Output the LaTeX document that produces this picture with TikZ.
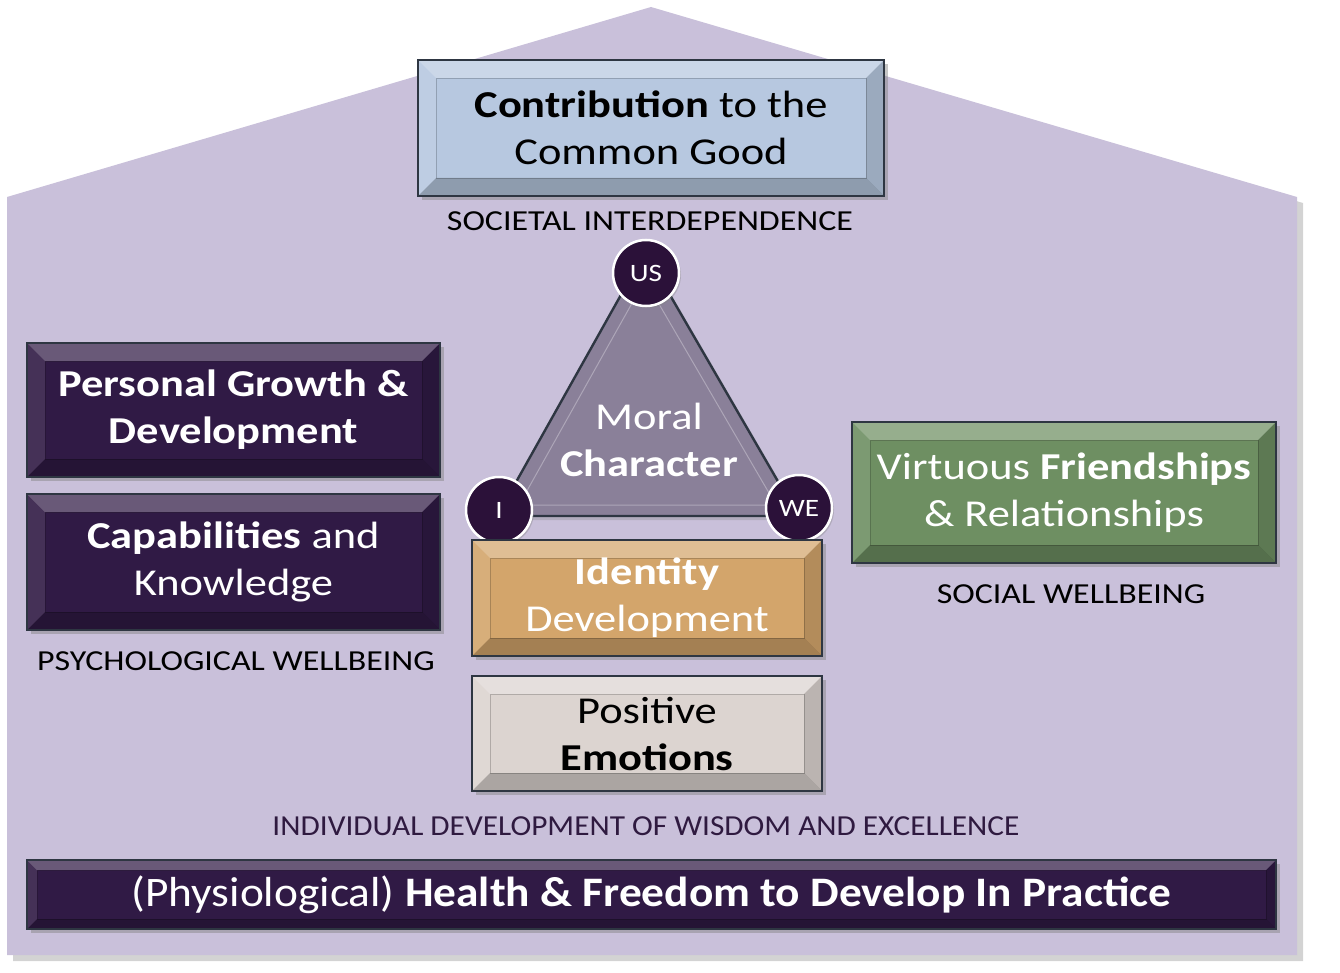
\documentclass[tikz,border=0pt]{standalone}
\usepackage{fontspec}
\setmainfont{Carlito}[FakeStretch=1.17]
\newfontfamily\narrowfont[FakeStretch=1.08]{Carlito}
\usetikzlibrary{shadows}

\definecolor{houselilac}{HTML}{C9C0DA}
\definecolor{plateedge}{HTML}{2E3642}
\definecolor{topblue}{HTML}{B7C8E0}
\definecolor{deeppurple}{HTML}{301A45}
\definecolor{tanplate}{HTML}{D3A56B}
\definecolor{paleplate}{HTML}{DCD4D0}
\definecolor{greenplate}{HTML}{6E8F62}
\definecolor{trianglegrey}{HTML}{8A8099}
\definecolor{bubblepurple}{HTML}{2B1139}
\definecolor{labelpurple}{HTML}{2F1A40}

\tikzset{
  bevel/.style={path picture={
      \path (path picture bounding box.north west) coordinate (pnw)
            (path picture bounding box.north east) coordinate (pne)
            (path picture bounding box.south west) coordinate (psw)
            (path picture bounding box.south east) coordinate (pse);
      \fill[white,opacity=.28] (pnw) -- (pne) -- ([shift={(-#1,-#1)}]pne) -- ([shift={(#1,-#1)}]pnw) -- cycle;
      \fill[white,opacity=.10] (pnw) -- ([shift={(#1,-#1)}]pnw) -- ([shift={(#1,#1)}]psw) -- (psw) -- cycle;
      \fill[black,opacity=.15] (pne) -- (pse) -- ([shift={(-#1,#1)}]pse) -- ([shift={(-#1,-#1)}]pne) -- cycle;
      \fill[black,opacity=.22] (psw) -- (pse) -- ([shift={(-#1,#1)}]pse) -- ([shift={(#1,#1)}]psw) -- cycle;
      \draw[black,opacity=.2,line width=.8pt] ([shift={(#1,-#1)}]pnw) rectangle ([shift={(-#1,#1)}]pse);
  }},
  bevel/.default=18pt,
  plate/.style={draw=plateedge, line width=1.6pt, align=center, inner sep=0pt,
    drop shadow={shadow xshift=4pt, shadow yshift=-4pt, opacity=.45},
    bevel, font=\fontsize{38}{47}\selectfont},
  bubble/.style={circle, fill=bubblepurple, draw=white, line width=2.5pt,
    minimum size=66, inner sep=0pt, text=white, font=\fontsize{25}{29}\selectfont,
    drop shadow={shadow xshift=2pt, shadow yshift=-2pt, opacity=.35}},
  caption/.style={font=\fontsize{29}{34}\selectfont, inner sep=0pt}
}

\begin{document}
\begin{tikzpicture}[x=1pt,y=-1pt]
  \useasboundingbox (0,0) rectangle (1340,973);
  % house
  \fill[houselilac, drop shadow={shadow xshift=6pt, shadow yshift=-6pt, opacity=.35}]
    (7,197) -- (651,7) -- (1297,197) -- (1297,955) -- (7,955) -- cycle;

  % top
  \node[plate, fill=topblue, minimum width=466, minimum height=136] (common) at (651,128)
    {\textbf{Contribution} to the\\Common Good};
  \node[caption] (societal) at (650,221) {SOCIETAL INTERDEPENDENCE};

  % moral character triangle
  \filldraw[fill=trianglegrey, draw=plateedge, line width=2.4pt, line join=round,
    drop shadow={shadow xshift=4pt, shadow yshift=-4pt, opacity=.3}]
    (645,252) -- (798,516) -- (497,516) -- cycle;
  \draw[white, opacity=.3, line width=1pt] (645,280) -- (776,505) -- (519,505) -- cycle;
  \node[align=center, text=white, font=\fontsize{38}{47}\selectfont] (moral) at (649,440)
    {Moral\\\textbf{Character}};
  \node[bubble] (us) at (646,273) {US};
  \node[bubble] (i) at (499,510) {I};
  \node[bubble] (we) at (799,508) {WE};

  % psychological
  \node[plate, fill=deeppurple, text=white, minimum width=413, minimum height=134] (growth) at (233.5,410)
    {\textbf{Personal Growth \&}\\\textbf{Development}};
  \node[plate, fill=deeppurple, text=white, minimum width=413, minimum height=136] (capab) at (233.5,562)
    {\textbf{Capabilities} and\\Knowledge};
  \node[caption] (psych) at (236,661) {PSYCHOLOGICAL WELLBEING};

  % individual
  \node[plate, fill=tanplate, text=white, minimum width=350, minimum height=116] (identity) at (647,598)
    {\textbf{Identity}\\Development};
  \node[plate, fill=paleplate, minimum width=350, minimum height=115] (emotions) at (647,733.5)
    {Positive\\\textbf{Emotions}};

  % social
  \node[plate, fill=greenplate, text=white, minimum width=424, minimum height=141] (friends) at (1064,492.5)
    {Virtuous \textbf{Friendships}\\\& Relationships};
  \node[caption] (social) at (1071,594) {SOCIAL WELLBEING};

  \node[caption, text=labelpurple, font=\narrowfont\fontsize{29}{34}\selectfont] (individual) at (646,826)
    {INDIVIDUAL DEVELOPMENT OF WISDOM AND EXCELLENCE};

  % base
  \node[plate, bevel=10pt, fill=deeppurple, text=white, minimum width=1249, minimum height=69,
    font=\narrowfont\fontsize{42}{48}\selectfont] (health) at (651.5,894.5)
    {(Physiological) \textbf{Health \& Freedom to Develop In Practice}};
\end{tikzpicture}
\end{document}
